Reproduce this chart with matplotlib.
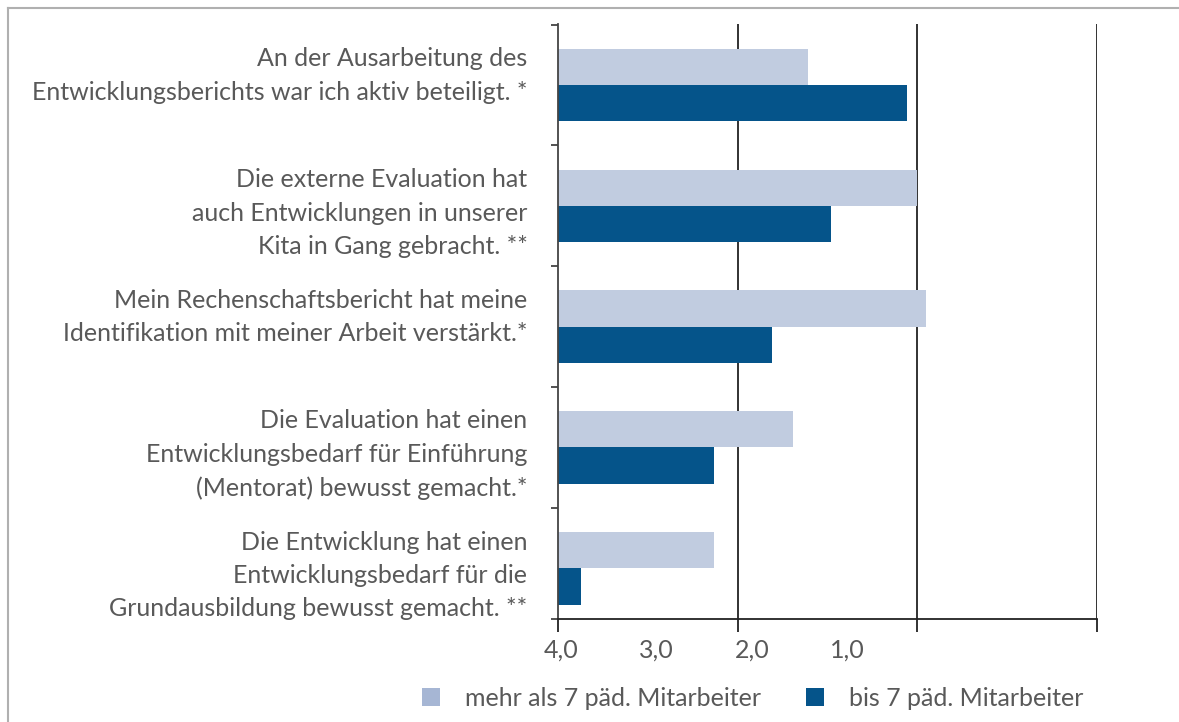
import matplotlib
matplotlib.use("Agg")
import matplotlib.pyplot as plt
from matplotlib.patches import Patch
from matplotlib.lines import Line2D

categories = [
    "An der Ausarbeitung des\nEntwicklungsberichts war ich aktiv beteiligt. *\n",
    "Die externe Evaluation hat\nauch Entwicklungen in unserer\nKita in Gang gebracht. **",
    "Mein Rechenschaftsbericht hat meine\nIdentifikation mit meiner Arbeit verstärkt.*\n",
    "Die Evaluation hat einen\nEntwicklungsbedarf für Einführung\n(Mentorat) bewusst gemacht.*",
    "Die Entwicklung hat einen\nEntwicklungsbedarf für die\nGrundausbildung bewusst gemacht. **",
]
series_names = ["mehr als 7 päd. Mitarbeiter", "bis 7 päd. Mitarbeiter"]
mehr_als_7 = [2.61, 2.00, 1.95, 2.69, 3.13]
bis_7 = [2.06, 2.48, 2.81, 3.13, 3.87]
grid_ticks = [4, 3, 2, 1]
tick_labels = ["4,0", "3,0", "2,0", "1,0"]
tick_label_pos = [3.98, 3.45, 2.92, 2.39]

TEXT = "#595959"
LIGHT = "#C1CCE0"
LIGHT_LEG = "#A6B6D4"
DARK = "#05548A"
FONT = "Lato"
FS = 18

plt.rcParams["font.family"] = [FONT, "DejaVu Sans"]

fig = plt.figure(figsize=(11.79, 7.22), dpi=100)
ax = fig.add_axes([558 / 1179, 1 - 619 / 722, (1097 - 558) / 1179, (619 - 24) / 722])

ypos = list(range(len(categories)))
h = 0.3
base = grid_ticks[0]
ax.barh([y - h / 2 for y in ypos], [v - base for v in mehr_als_7], height=h,
        left=base, color=LIGHT, zorder=2)
ax.barh([y + h / 2 for y in ypos], [v - base for v in bis_7], height=h,
        left=base, color=DARK, zorder=2)

ax.set_xlim(4, 1)
ax.set_ylim(4.42, -0.505)

for g in grid_ticks[1:]:
    ax.axvline(g, color="#222222", lw=1.3, zorder=1)

for s in ["top", "right"]:
    ax.spines[s].set_visible(False)
ax.spines["left"].set_color("#444444")
ax.spines["left"].set_linewidth(1.3)
ax.spines["bottom"].set_color("#222222")
ax.spines["bottom"].set_linewidth(1.3)

# y ticks at category boundaries
bounds = [-0.5 + i for i in range(len(categories))] + [ax.get_ylim()[0]]
ax.set_yticks(bounds)
ax.set_yticklabels([])
ax.tick_params(axis="y", length=5, width=1.3, color="#444444", direction="out")
ax.set_yticks(ypos, minor=True)
ax.set_yticklabels(categories, minor=True, fontsize=FS, color=TEXT,
                   linespacing=1.55)
ax.tick_params(axis="y", which="minor", length=0, pad=22)

# x ticks
ax.set_xticks(grid_ticks)
ax.set_xticklabels([])
ax.tick_params(axis="x", length=9.5, width=1.3, color="#222222", direction="out")
ax.set_xticks(tick_label_pos, minor=True)
ax.set_xticklabels(tick_labels, minor=True, fontsize=FS, color=TEXT)
ax.tick_params(axis="x", which="minor", length=0, pad=14)

handles = [Patch(facecolor=LIGHT_LEG, edgecolor="none"),
           Patch(facecolor=DARK, edgecolor="none")]
fig.legend(handles, series_names, loc="center", bbox_to_anchor=(753 / 1179, 1 - 698 / 722),
           ncol=2, frameon=False, fontsize=FS, labelcolor=TEXT,
           handlelength=0.72, handleheight=0.72, handletextpad=1.0,
           columnspacing=1.8)

# outer frame (top and left)
fig.add_artist(Line2D([8 / 1179, 1], [1 - 8 / 722, 1 - 8 / 722], color="#B0B0B0", lw=1.5,
                      transform=fig.transFigure))
fig.add_artist(Line2D([8 / 1179, 8 / 1179], [0, 1 - 8 / 722], color="#B0B0B0", lw=1.5,
                      transform=fig.transFigure))

fig.savefig("out.png", dpi=100)
